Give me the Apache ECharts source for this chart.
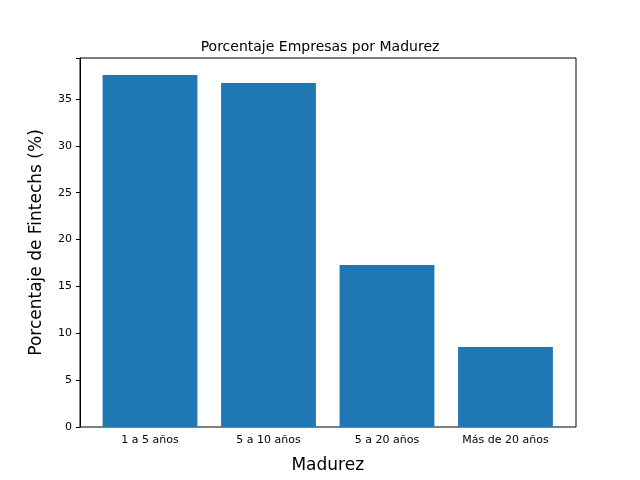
<!DOCTYPE html>
<html>
<head>
<meta charset="utf-8">
<script src="https://cdn.jsdelivr.net/npm/echarts@6/dist/echarts.min.js"></script>
<style>html,body{margin:0;padding:0;background:#fff}#c{width:640px;height:480px}</style>
</head>
<body>
<div id="c"></div>
<script>
// datos
const categorias = ['1 a 5 años', '5 a 10 años', '5 a 20 años', 'Más de 20 años'];
const porcentajes = [37.56, 36.71, 17.29, 8.54];
const yMax = 39.37;

const chart = echarts.init(document.getElementById('c'));
const font = 'DejaVu Sans';
chart.setOption({
    animation: false,
    textStyle: { fontFamily: font },
    title: {
        text: 'Porcentaje Empresas por Madurez',
        left: 'center', top: 35,
        textStyle: { fontSize: 14, fontWeight: 'normal', color: '#000', fontFamily: font }
    },
    grid: [
        { left: 80, right: 64, top: 58, bottom: 53, show: true, borderColor: '#000', borderWidth: 1 },
        { left: 90.75, right: 75.25, top: 58, bottom: 53 }
    ],
    xAxis: [
        { gridIndex: 0, type: 'value', min: 0, max: 1, show: false },
        {
            gridIndex: 1, type: 'category', data: categorias,
            axisLine: { show: false },
            axisTick: { alignWithLabel: true, length: 4, lineStyle: { color: '#000' } },
            axisLabel: { color: '#000', fontSize: 11, margin: 8 },
            name: 'Madurez', nameLocation: 'middle', nameGap: 30,
            nameTextStyle: { fontSize: 17, color: '#000' }
        }
    ],
    yAxis: [
        {
            gridIndex: 0, type: 'value', min: 0, max: yMax, interval: 5,
            axisLine: { show: true, lineStyle: { color: '#000' } },
            axisTick: { show: true, length: 4, lineStyle: { color: '#000' } },
            axisLabel: { color: '#000', fontSize: 11, formatter: v => (v % 5 === 0 ? v : '') },
            splitLine: { show: false },
            name: 'Porcentaje de Fintechs (%)', nameLocation: 'middle', nameGap: 35,
            nameTextStyle: { fontSize: 17, color: '#000' }
        },
        { gridIndex: 1, type: 'value', min: 0, max: yMax, show: false }
    ],
    series: [{
        type: 'bar', xAxisIndex: 1, yAxisIndex: 1,
        data: porcentajes, barWidth: '80%',
        itemStyle: { color: '#1f77b4' }
    }]
});
</script>
</body>
</html>
